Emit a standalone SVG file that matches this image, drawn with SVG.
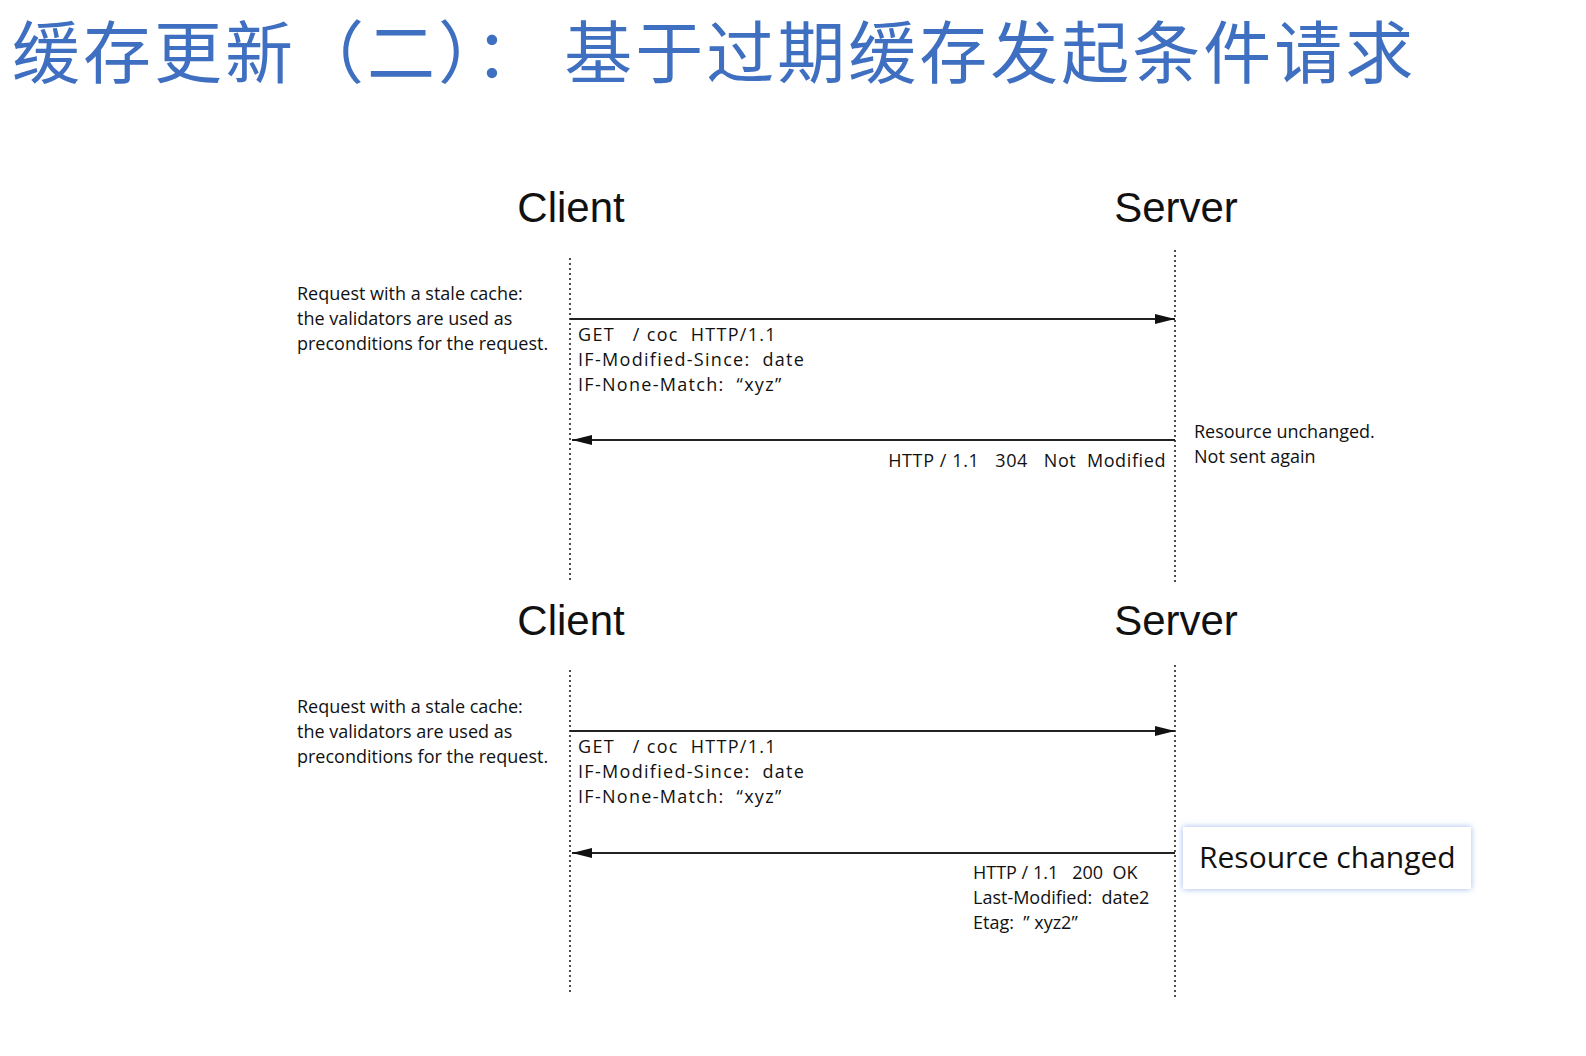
<svg xmlns="http://www.w3.org/2000/svg" width="1586" height="1056" viewBox="0 0 1586 1056">
<style>
text{white-space:pre}
.title{font-family:"Noto Sans CJK SC","Noto Sans",sans-serif;font-size:68px;fill:#3f6fc0;letter-spacing:3px}
.head{font-family:"Liberation Sans",Arial,sans-serif;font-size:42px;fill:#111}
.t{font-family:"Open Sans","Noto Sans",sans-serif;font-size:18px;fill:#111}
.m{font-family:"Open Sans","Noto Sans",sans-serif;font-size:18px;fill:#111;letter-spacing:1.3px}
.life{stroke:#222;stroke-width:1.6;stroke-dasharray:2 3}
.msg{stroke:#222;stroke-width:2;fill:none}
</style>
<defs>
<marker id="ah" viewBox="0 0 20 10" refX="20" refY="5" markerWidth="20" markerHeight="10" markerUnits="userSpaceOnUse" orient="auto"><path d="M0,0 L20,5 L0,10 Z" fill="#111"/></marker>
<filter id="glow" x="-10%" y="-20%" width="120%" height="140%"><feDropShadow dx="0" dy="0" stdDeviation="3" flood-color="#8fb0e8" flood-opacity="0.9"/></filter>
</defs>
<text class="title" x="12" y="78" xml:space="preserve">缓存更新（二）： 基于过期缓存发起条件请求</text>
<g id="connectors">
<line class="life" x1="570" y1="258" x2="570" y2="580"/>
<line class="life" x1="1175" y1="250" x2="1175" y2="585"/>
<line class="life" x1="570" y1="670" x2="570" y2="993"/>
<line class="life" x1="1175" y1="665" x2="1175" y2="998"/>
<line class="msg" x1="570" y1="319" x2="1175" y2="319" marker-end="url(#ah)"/>
<line class="msg" x1="1175" y1="440" x2="572" y2="440" marker-end="url(#ah)"/>
<line class="msg" x1="570" y1="731" x2="1175" y2="731" marker-end="url(#ah)"/>
<line class="msg" x1="1175" y1="853" x2="572" y2="853" marker-end="url(#ah)"/>
</g>
<g id="client1"><text class="head" x="571" y="222" text-anchor="middle">Client</text></g>
<g id="server1"><text class="head" x="1176" y="222" text-anchor="middle">Server</text></g>
<g id="client2"><text class="head" x="571" y="635" text-anchor="middle">Client</text></g>
<g id="server2"><text class="head" x="1176" y="635" text-anchor="middle">Server</text></g>
<g id="note1"><text class="t" x="297" y="300">Request with a stale cache:</text><text class="t" x="297" y="325">the validators are used as</text><text class="t" x="297" y="350">preconditions for the request.</text></g>
<g id="req1"><text class="m" x="578" y="341" xml:space="preserve">GET   / coc  HTTP/1.1</text><text class="m" x="578" y="366" xml:space="preserve">IF-Modified-Since:  date</text><text class="m" x="578" y="391" xml:space="preserve">IF-None-Match:  “xyz”</text></g>
<g id="resp1"><text class="m" x="1166" y="467" text-anchor="end" style="letter-spacing:0.6px" xml:space="preserve">HTTP / 1.1   304   Not  Modified</text></g>
<g id="note2"><text class="t" x="1194" y="438">Resource unchanged.</text><text class="t" x="1194" y="463">Not sent again</text></g>
<g id="note3"><text class="t" x="297" y="713">Request with a stale cache:</text><text class="t" x="297" y="738">the validators are used as</text><text class="t" x="297" y="763">preconditions for the request.</text></g>
<g id="req2"><text class="m" x="578" y="753" xml:space="preserve">GET   / coc  HTTP/1.1</text><text class="m" x="578" y="778" xml:space="preserve">IF-Modified-Since:  date</text><text class="m" x="578" y="803" xml:space="preserve">IF-None-Match:  “xyz”</text></g>
<g id="resp2"><text class="t" x="973" y="879" xml:space="preserve">HTTP / 1.1   200  OK</text><text class="t" x="973" y="904" xml:space="preserve">Last-Modified:  date2</text><text class="t" x="973" y="929" xml:space="preserve">Etag:  ” xyz2”</text></g>
<g id="changed"><rect x="1183" y="827" width="288" height="62" fill="#fff" filter="url(#glow)"/><text x="1199" y="868" style="font-family:'Open Sans','Noto Sans',sans-serif;font-size:30px;fill:#111">Resource changed</text></g>
</svg>
